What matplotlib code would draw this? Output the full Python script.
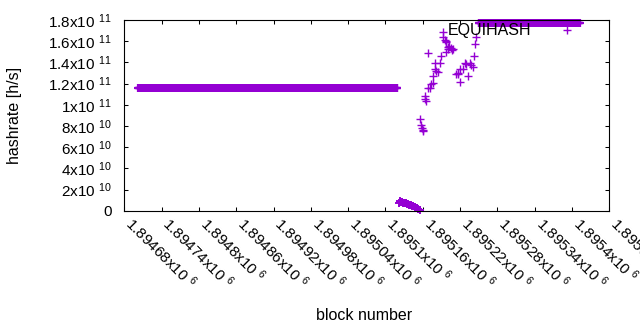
import numpy as np
import matplotlib
matplotlib.use("Agg")
import matplotlib.pyplot as plt

plt.rcParams['font.family'] = ['Liberation Sans', 'DejaVu Sans']
plt.rcParams['mathtext.fontset'] = 'custom'
plt.rcParams['mathtext.rm'] = 'Liberation Sans'
plt.rcParams['mathtext.default'] = 'regular'

# flat stretches: (first block, last block, hashrate h/s), one point per block
run_before = (1894702, 1895119, 1.155e11)
run_after = (1895250, 1895413, 1.772e11)

# hashrate falling away right after the first stretch
drop_blocks = [1895121, 1895123, 1895124, 1895126, 1895127, 1895129, 1895130,
               1895132, 1895133, 1895135, 1895136, 1895138, 1895139, 1895141,
               1895142, 1895144, 1895145, 1895147, 1895148, 1895150, 1895151,
               1895153, 1895155]
drop_rates = [7.5e9, 8.8e9, 8.6e9, 8.0e9, 8.3e9, 7.6e9, 7.7e9,
              7.0e9, 7.0e9, 6.4e9, 6.3e9, 5.8e9, 5.6e9, 5.1e9,
              4.9e9, 4.5e9, 4.1e9, 3.8e9, 3.3e9, 3.0e9, 2.5e9,
              1.8e9, 1.0e9]

# scattered recovery before the second stretch
rise_blocks = [1895155, 1895157, 1895158, 1895160, 1895161, 1895164, 1895164,
               1895165, 1895168, 1895169, 1895172, 1895174, 1895177, 1895177,
               1895179, 1895180, 1895182, 1895185, 1895188, 1895189, 1895193,
               1895193, 1895195, 1895197, 1895198, 1895198, 1895200, 1895201,
               1895203, 1895205, 1895207, 1895209, 1895213, 1895216, 1895217,
               1895220, 1895220, 1895224, 1895228, 1895230, 1895233, 1895236,
               1895238, 1895241, 1895242, 1895244, 1895246]
rise_rates = [87.0e9, 80.9e9, 78.5e9, 76.2e9, 74.8e9, 108.3e9, 105.0e9,
              103.5e9, 148.6e9, 115.5e9, 115.5e9, 119.6e9, 120.8e9, 127.1e9,
              133.7e9, 139.1e9, 132.3e9, 131.2e9, 139.1e9, 145.7e9, 169.0e9,
              164.0e9, 161.1e9, 158.8e9, 160.2e9, 150.1e9, 154.8e9, 152.6e9,
              155.5e9, 153.3e9, 151.7e9, 152.3e9, 129.0e9, 129.0e9, 129.7e9,
              121.8e9, 133.5e9, 133.7e9, 139.1e9, 138.5e9, 127.1e9, 139.1e9,
              137.5e9, 135.9e9, 146.0e9, 157.1e9, 164.4e9]

x_ticks = [1894680, 1894740, 1894800, 1894860, 1894920, 1894980, 1895040,
           1895100, 1895160, 1895220, 1895280, 1895340, 1895400, 1895460]
x_labels = ['1.89468', '1.89474', '1.8948', '1.89486', '1.89492', '1.89498',
            '1.89504', '1.8951', '1.89516', '1.89522', '1.89528', '1.89534',
            '1.8954', '1.8955']
y_ticks = [0, 2e10, 4e10, 6e10, 8e10, 1e11, 1.2e11, 1.4e11, 1.6e11, 1.8e11]
y_labels = ['0', '2x10 $^{10}$', '4x10 $^{10}$', '6x10 $^{10}$', '8x10 $^{10}$',
            '1x10 $^{11}$', '1.2x10 $^{11}$', '1.4x10 $^{11}$', '1.6x10 $^{11}$',
            '1.8x10 $^{11}$']

purple = '#9400D3'

fig = plt.figure(figsize=(6.4, 3.3), dpi=100)
ax = fig.add_axes([124.3 / 640, 1 - 210.7 / 330, 485 / 640, 190.7 / 330])

# the long flat runs: markers overlap into a solid band
for first, last, rate in (run_before, run_after):
    b = np.arange(first, last + 1)
    ax.plot(b, np.full(len(b), rate), linestyle='none', marker='+', color=purple,
            markersize=5.2, markeredgewidth=1.6, clip_on=False)

ax.plot(drop_blocks, drop_rates, linestyle='none', marker='+', color=purple,
        markersize=5.2, markeredgewidth=1.4, clip_on=False)

ax.plot(rise_blocks, rise_rates, linestyle='none', marker='+', color=purple,
        markersize=5.2, markeredgewidth=1.0, clip_on=False, label='EQUIHASH')

ax.set_xlim(1894680, 1895460)
ax.set_ylim(0, 1.8e11)

ax.set_yticks(y_ticks)
ax.set_yticklabels(y_labels)
ax.set_xticks(x_ticks)
ax.set_xticklabels([l + 'x10 $^{6}$' for l in x_labels], rotation=-45,
                   ha='left', va='baseline', rotation_mode='anchor')

ax.tick_params(direction='in', length=3, width=0.75, top=True, right=True,
               labelsize=11, colors='black')
ax.tick_params(axis='y', pad=9)
ax.tick_params(axis='x', pad=10)
for s in ax.spines.values():
    s.set_linewidth(0.8)

fig.text(15 / 640, 1 - 115 / 330, 'hashrate [h/s]', rotation=90,
         ha='center', va='center', fontsize=11.5)
fig.text(364 / 640, 1 - 316 / 330, 'block number', ha='center', va='center',
         fontsize=11.5)

ax.legend(loc='center right', bbox_to_anchor=(597 / 640, 1 - 31 / 330),
          bbox_transform=fig.transFigure, frameon=False, markerfirst=False,
          numpoints=1, handlelength=2.0, handletextpad=1.2, fontsize=11.5,
          borderpad=0.4)

fig.savefig('out.png', dpi=100)
